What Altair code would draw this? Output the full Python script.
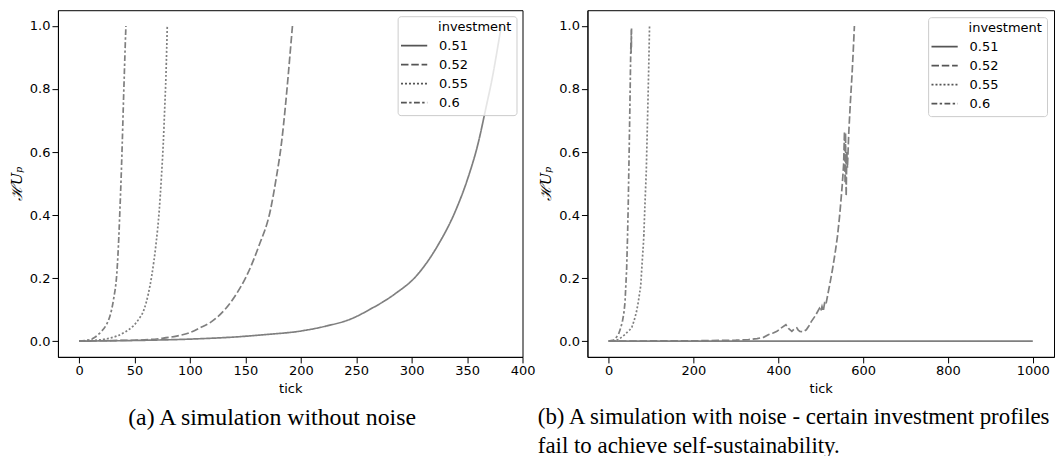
import altair as alt
import pandas as pd

INVESTMENTS = ["0.51", "0.52", "0.55", "0.6"]
DASHES = [[1, 0], [7.5, 2.8], [2, 2], [5.8, 2.4, 2.4, 2.4]]

CAPTION_A = "(a) A simulation without noise"
CAPTION_B = ["(b) A simulation with noise - certain investment profiles",
             "fail to achieve self-sustainability."]
Y_TITLE = "\u210bU\u209a"
X_TITLE = "tick"
LEGEND_TITLE = "investment"

A_X_TICKS = [0, 50, 100, 150, 200, 250, 300, 350, 400]
B_X_TICKS = [0, 200, 400, 600, 800, 1000]
Y_TICKS = [0.0, 0.2, 0.4, 0.6, 0.8, 1.0]

# ---- panel (a): simulation without noise ----
A_051_TICK = [0, 50, 109, 140, 169, 200, 223, 245, 262, 285, 304, 323, 340, 351, 360, 367, 373, 377.5, 380.8]
A_051_VAL = [0.0, 0.002, 0.0076, 0.013, 0.021, 0.032, 0.048, 0.07, 0.10, 0.15, 0.206, 0.30, 0.417, 0.52, 0.628, 0.74, 0.84, 0.93, 1.0]

A_052_TICK = [0, 30, 59, 75, 88, 100, 109, 118, 125, 131.5, 142, 151, 162, 172.7, 178, 182.6, 186, 188.6, 190.8, 192.5]
A_052_VAL = [0.0, 0.002, 0.004, 0.009, 0.016, 0.027, 0.042, 0.058, 0.077, 0.10, 0.15, 0.206, 0.30, 0.417, 0.52, 0.628, 0.74, 0.84, 0.93, 1.0]

A_055_TICK = [0, 10, 18.9, 27, 34, 42, 48.9, 54, 58.6, 62.5, 65.5, 69.5, 72.4, 74.3, 76, 77.3, 78.4, 79.1, 79.6]
A_055_VAL = [0.0, 0.002, 0.004, 0.009, 0.016, 0.03, 0.048, 0.07, 0.10, 0.15, 0.206, 0.31, 0.417, 0.52, 0.628, 0.74, 0.84, 0.93, 1.0]

A_060_TICK = [0, 5, 10, 15, 20, 24, 27, 29.4, 31.5, 33.9, 35.5, 36.9, 38, 39, 40, 40.8, 41.6, 42.3]
A_060_VAL = [0.0, 0.002, 0.005, 0.014, 0.03, 0.048, 0.07, 0.10, 0.14, 0.206, 0.30, 0.417, 0.52, 0.628, 0.75, 0.84, 0.93, 1.0]

# ---- panel (b): simulation with noise ----
B_051_TICK = [0, 250, 500, 750, 1000]
B_051_VAL = [0.0, 0.0, 0.0, 0.0, 0.0]

B_052_TICK = [0, 100, 200, 300, 330, 350, 365, 377.5, 388, 396.8, 405, 417.8, 424, 431.9, 437, 443.5, 447, 451, 458,
              466, 472, 477.7, 487, 496.9, 500, 503, 506, 509, 512, 516.3, 522, 527.8, 534, 539.4, 544, 547, 551, 554,
              556, 557.5, 558.5, 560, 561.5, 563, 566.2, 570, 574, 577, 579.4]
B_052_VAL = [0.0, 0.0005, 0.001, 0.003, 0.005, 0.008, 0.012, 0.021, 0.026, 0.031, 0.04, 0.052, 0.04, 0.031, 0.038,
             0.042, 0.035, 0.031, 0.03, 0.036, 0.048, 0.062, 0.08, 0.104, 0.095, 0.11, 0.095, 0.12, 0.115, 0.145,
             0.185, 0.228, 0.28, 0.332, 0.39, 0.435, 0.5, 0.56, 0.665, 0.5, 0.66, 0.46, 0.6, 0.55, 0.663, 0.76,
             0.85, 0.93, 1.0]

B_055_TICK = [0, 15, 23.1, 30, 38.6, 45, 50.1, 55, 60, 65.6, 70, 75.6, 79, 82, 83.2, 82.8, 83.6, 85.5, 88.7, 90.5,
              92.4, 94.5, 96.4]
B_055_VAL = [0.0, 0.002, 0.005, 0.012, 0.021, 0.03, 0.036, 0.045, 0.065, 0.093, 0.125, 0.176, 0.25, 0.31, 0.342,
             0.33, 0.36, 0.43, 0.539, 0.64, 0.746, 0.87, 1.0]

B_060_TICK = [0, 11.6, 17, 23.1, 28, 32.4, 36, 38.6, 42.4, 44.5, 46.2, 48.3, 50.1, 51.5, 52.5, 53, 53.3, 53.6, 54]
B_060_VAL = [0.0, 0.003, 0.01, 0.021, 0.04, 0.062, 0.09, 0.124, 0.228, 0.33, 0.435, 0.6, 0.746, 0.87, 0.95, 0.91,
             0.99, 0.93, 1.0]


def build(series):
    rows = []
    for inv, ticks, vals in series:
        for i, (t, v) in enumerate(zip(ticks, vals)):
            rows.append({"tick": t, "value": v, "investment": inv, "idx": i})
    return pd.DataFrame(rows)


df_a = build([("0.51", A_051_TICK, A_051_VAL), ("0.52", A_052_TICK, A_052_VAL),
              ("0.55", A_055_TICK, A_055_VAL), ("0.6", A_060_TICK, A_060_VAL)])
df_b = build([("0.51", B_051_TICK, B_051_VAL), ("0.52", B_052_TICK, B_052_VAL),
              ("0.55", B_055_TICK, B_055_VAL), ("0.6", B_060_TICK, B_060_VAL)])

LINE_COLOR = "#7f7f7f"
TEXT = "#000000"


def legend(offset):
    return alt.Legend(
        title="\u2800" * 2 + "\u00a0" * 4 + LEGEND_TITLE, orient="top-right", offset=offset, padding=5,
        fillColor="rgba(255,255,255,0.8)", strokeColor="#cccccc", cornerRadius=3,
        symbolType="M-1.25,0L1.25,0", symbolSize=441, symbolStrokeWidth=1.8, symbolStrokeColor="#555555",
        labelOffset=13.5, rowPadding=0, titlePadding=0,
        labelFont="DejaVu Sans", labelFontSize=13, labelColor=TEXT,
        titleFont="DejaVu Sans", titleFontSize=13, titleFontWeight="normal", titleColor=TEXT,
    )


def y_axis():
    return alt.Axis(values=Y_TICKS, format=".1f", title=Y_TITLE, titleFont="DejaVu Serif",
                    titleFontStyle="italic", titleFontWeight="normal", titleFontSize=15,
                    titleColor=TEXT, titlePadding=5, labelPadding=2)


def x_axis(vals):
    return alt.Axis(values=vals, format="d", title=X_TITLE, titleFont="DejaVu Sans", titleFontSize=13,
                    titleFontWeight="normal", titleColor=TEXT, titlePadding=5, labelFlush=False,
                    labelOverlap=False, labelPadding=2)


def panel(df, xdom, xvals, w, h, caption, anchor, offset, dx, interp, cap_size):
    return alt.Chart(df).mark_line(color=LINE_COLOR, strokeWidth=1.7, interpolate=interp).encode(
        x=alt.X("tick:Q", scale=alt.Scale(domain=xdom, nice=False, zero=False), axis=x_axis(xvals)),
        y=alt.Y("value:Q", scale=alt.Scale(domain=[-0.05, 1.05], nice=False, zero=False), axis=y_axis()),
        strokeDash=alt.StrokeDash("investment:N", scale=alt.Scale(domain=INVESTMENTS, range=DASHES),
                                  legend=legend(offset)),
        order="idx:Q",
    ).properties(
        width=w, height=h,
        title=alt.TitleParams(text=caption, orient="bottom", anchor=anchor, frame="bounds",
                              font="Liberation Serif", fontSize=cap_size, fontWeight="normal", color=TEXT,
                              offset=10.5, lineHeight=28.4, dx=dx),
    )


left = panel(df_a, [-19, 400], A_X_TICKS, 465, 347, CAPTION_A, "middle", 6, 0, "monotone", 23.8)
right = panel(df_b, [-50, 1050], B_X_TICKS, 467, 347, CAPTION_B, "start", 7, -1, "linear", 22.9)

chart = alt.hconcat(left, right, spacing=1).resolve_scale(strokeDash="independent").resolve_legend(
    strokeDash="independent"
).properties(
    padding={"left": 0, "top": 1, "right": 0, "bottom": 0},
).configure_axis(
    grid=False, domainColor="#000000", domainWidth=1, tickColor="#000000", tickSize=6, tickWidth=1,
    labelFont="DejaVu Sans", labelFontSize=13, labelColor=TEXT,
).configure_view(stroke="#000000", strokeWidth=1)

chart.save("out.html", embed_options={"renderer": "svg", "actions": False})
